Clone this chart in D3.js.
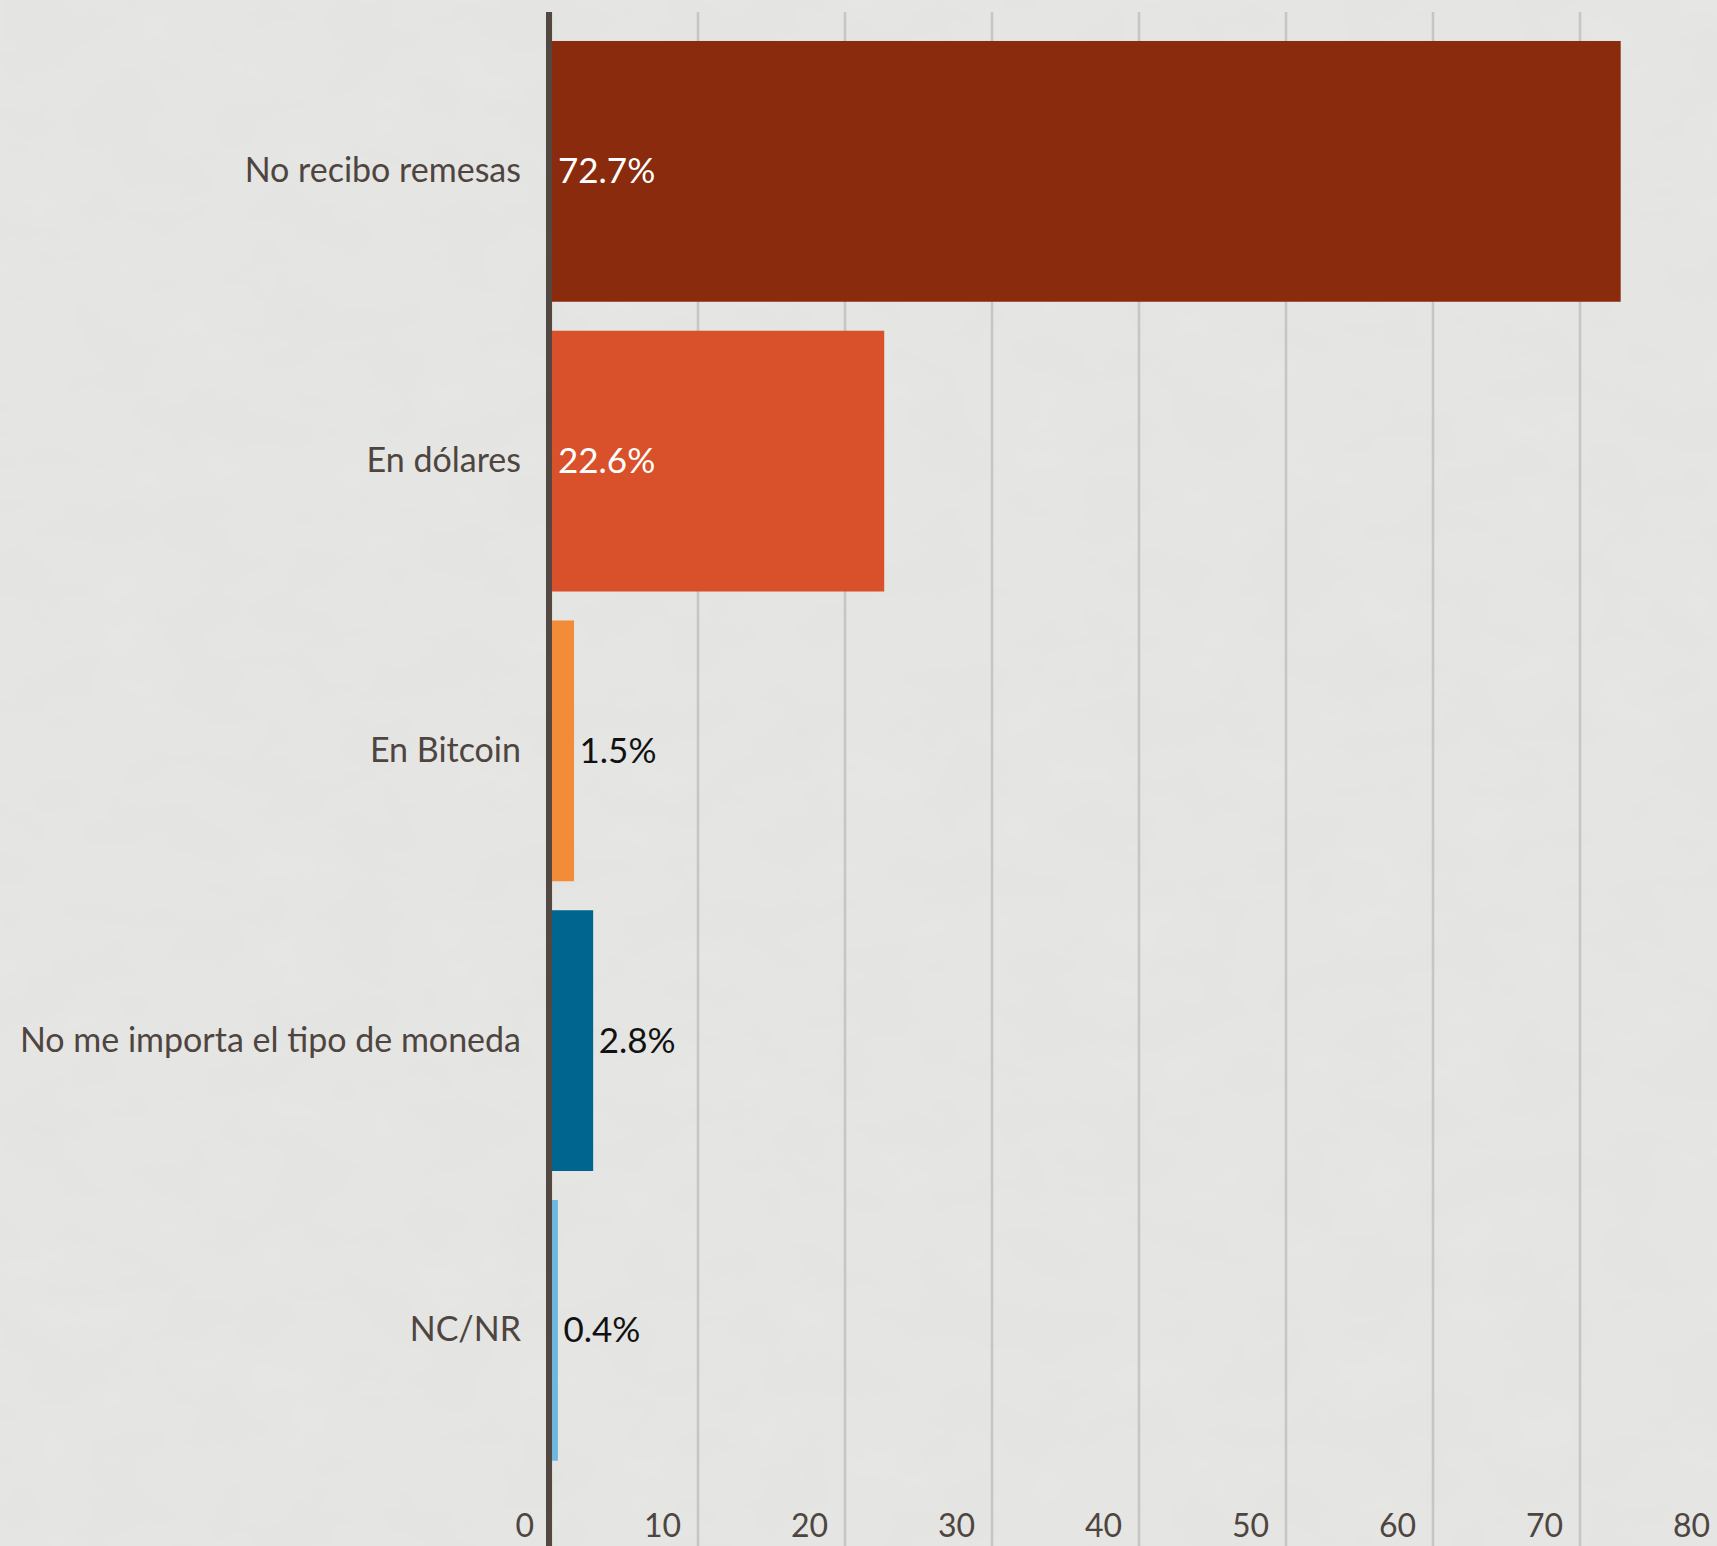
<!DOCTYPE html>
<html>
<head>
<meta charset="utf-8">
<script src="https://cdn.jsdelivr.net/npm/d3@7"></script>
<style>
  html, body { margin: 0; padding: 0; background: #e4e4e2; }
  svg { display: block; }
</style>
</head>
<body>
<svg id="chart" width="1717" height="1546"></svg>
<script>
const categories = ["No recibo remesas", "En dólares", "En Bitcoin", "No me importa el tipo de moneda", "NC/NR"];
const values = [72.7, 22.6, 1.5, 2.8, 0.4];
const valueLabels = ["72.7%", "22.6%", "1.5%", "2.8%", "0.4%"];
const colors = ["#8b2b0e", "#d9512a", "#f28c38", "#00668f", "#6db8df"];
const tickValues = [0, 10, 20, 30, 40, 50, 60, 70, 80];

const W = 1717, H = 1546;
const svg = d3.select("#chart");
const font = "Lato, 'Noto Sans', sans-serif";

// background with faint texture
const defs = svg.append("defs");
const f = defs.append("filter").attr("id", "noise").attr("x", 0).attr("y", 0).attr("width", "100%").attr("height", "100%");
f.append("feTurbulence").attr("type", "fractalNoise").attr("baseFrequency", "0.012 0.02").attr("numOctaves", 3).attr("seed", 4).attr("result", "t");
f.append("feColorMatrix").attr("type", "matrix")
  .attr("values", "0 0 0 0 1  0 0 0 0 1  0 0 0 0 1  0 0 0 0.12 0").attr("in", "t");

svg.append("rect").attr("width", W).attr("height", H).attr("fill", "#e3e3e1");
svg.append("rect").attr("width", W).attr("height", H).attr("filter", "url(#noise)");

const x = d3.scaleLinear().domain([0, 80]).range([550.5, 1726.5]);
const y = d3.scaleBand().domain(categories).range([26.5, 1475.25]).paddingInner(0.1).paddingOuter(0.05);

const plotTop = 12;
const barOffset = 1.5; // bars begin at the right edge of the axis line

// gridlines + tick labels
const axis = d3.axisBottom(x).tickValues(tickValues).tickSize(-(H - plotTop)).tickFormat(d3.format("d"));
const gx = svg.append("g").attr("transform", `translate(0,${H})`).call(axis);
gx.select(".domain").remove();
gx.selectAll(".tick line").attr("stroke", "#c6c6c4").attr("stroke-width", 2.6);
gx.selectAll(".tick text")
  .attr("x", -17).attr("y", -9).attr("dy", 0)
  .attr("text-anchor", "end")
  .attr("fill", "#4f4540")
  .style("font-family", font).style("font-size", "32px");

// bars
svg.append("g").selectAll("rect").data(categories).join("rect")
  .attr("x", x(0) + barOffset)
  .attr("y", d => y(d))
  .attr("width", (d, i) => x(values[i]) - x(0))
  .attr("height", y.bandwidth())
  .attr("fill", (d, i) => colors[i]);

// axis line
svg.append("line")
  .attr("x1", x(0) - 1.5).attr("x2", x(0) - 1.5)
  .attr("y1", plotTop).attr("y2", H)
  .attr("stroke", "#524741").attr("stroke-width", 6);

// category labels
svg.append("g").selectAll("text").data(categories).join("text")
  .attr("x", x(0) - 29.5)
  .attr("y", d => y(d) + y.bandwidth() / 2 + 11)
  .attr("text-anchor", "end")
  .attr("fill", "#4f4540")
  .style("font-family", font).style("font-size", "34px")
  .text(d => d);

// value labels
svg.append("g").selectAll("text").data(categories).join("text")
  .attr("x", (d, i) => values[i] > 10 ? x(0) + 7.5 : x(values[i]) + barOffset + 5.5)
  .attr("y", d => y(d) + y.bandwidth() / 2 + 12)
  .attr("fill", (d, i) => values[i] > 10 ? "#ffffff" : "#111111")
  .style("font-family", font).style("font-size", "35px")
  .text((d, i) => valueLabels[i]);
</script>
</body>
</html>
